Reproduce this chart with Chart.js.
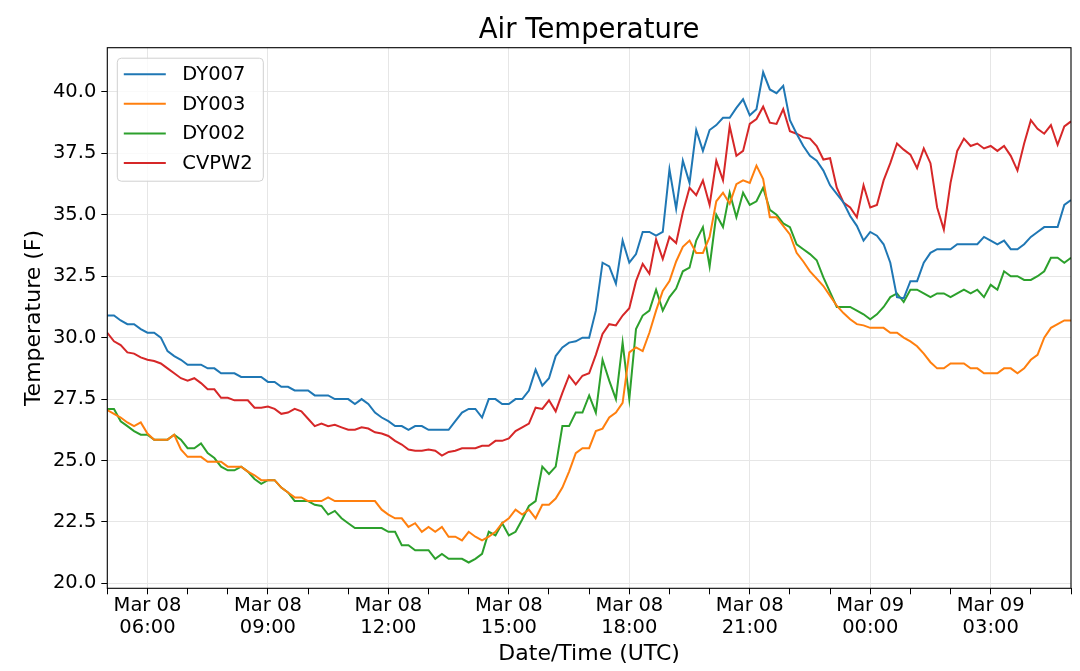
<!DOCTYPE html>
<html>
<head>
<meta charset="utf-8" />
<title>Air Temperature</title>
<script src="https://cdn.jsdelivr.net/npm/chart.js@4.4.1/dist/chart.umd.min.js"></script>
<style>
    body { margin: 0; background: #fff; }
    canvas { display: block; }
</style>
</head>
<body>
<canvas id="chart" width="1080" height="671"></canvas>

<script>
// readings every 10 minutes, first one at Mar 08 05:00 UTC
var startHour = 5;
var stepMinutes = 10;

var dy007 = [
    30.9, 30.9, 30.7, 30.55, 30.55, 30.35, 30.2, 30.2, 30.0, 29.45,
    29.25, 29.1, 28.9, 28.9, 28.9, 28.75, 28.75, 28.55, 28.55, 28.55,
    28.4, 28.4, 28.4, 28.4, 28.2, 28.2, 28.0, 28.0, 27.85, 27.85,
    27.85, 27.65, 27.65, 27.65, 27.5, 27.5, 27.5, 27.3, 27.5, 27.3,
    26.95, 26.75, 26.6, 26.4, 26.4, 26.25, 26.4, 26.4, 26.25, 26.25,
    26.25, 26.25, 26.6, 26.95, 27.1, 27.1, 26.75, 27.5, 27.5, 27.3,
    27.3, 27.5, 27.5, 27.85, 28.7, 28.05, 28.35, 29.25, 29.6, 29.8,
    29.85, 30.0, 30.0, 31.1, 33.05, 32.9, 32.2, 33.95, 33.05, 33.4,
    34.3, 34.3, 34.15, 34.3, 36.85, 35.25, 37.2, 36.3, 38.45, 37.6,
    38.45, 38.65, 38.95, 38.95, 39.35, 39.7, 39.05, 39.3, 40.8, 40.1,
    39.95, 40.25, 38.85, 38.3, 37.8, 37.4, 37.2, 36.8, 36.2, 35.85,
    35.5, 34.95, 34.55, 33.95, 34.3, 34.15, 33.8, 33.05, 31.65, 31.6,
    32.3, 32.3, 33.05, 33.45, 33.6, 33.6, 33.6, 33.8, 33.8, 33.8,
    33.8, 34.1, 33.95, 33.8, 33.95, 33.6, 33.6, 33.8, 34.1, 34.3,
    34.5, 34.5, 34.5, 35.4, 35.6
];

var dy003 = [
    27.05, 26.9, 26.75, 26.55, 26.4, 26.55, 26.1, 25.85, 25.85, 25.85,
    26.05, 25.45, 25.15, 25.15, 25.15, 24.95, 24.95, 24.95, 24.75, 24.75,
    24.75, 24.55, 24.4, 24.2, 24.2, 24.2, 23.9, 23.7, 23.5, 23.5,
    23.35, 23.35, 23.35, 23.5, 23.35, 23.35, 23.35, 23.35, 23.35, 23.35,
    23.35, 23.0, 22.8, 22.65, 22.65, 22.3, 22.45, 22.1, 22.3, 22.1,
    22.3, 21.9, 21.9, 21.75, 22.1, 21.9, 21.75, 21.9, 22.1, 22.45,
    22.65, 23.0, 22.8, 23.0, 22.65, 23.2, 23.2, 23.45, 23.9, 24.55,
    25.3, 25.5, 25.5, 26.2, 26.3, 26.75, 26.95, 27.35, 29.4, 29.6,
    29.45, 30.2, 31.1, 31.9, 32.3, 33.1, 33.7, 33.95, 33.45, 33.45,
    34.1, 35.55, 35.9, 35.45, 36.25, 36.4, 36.3, 37.0, 36.45, 34.9,
    34.9, 34.55, 34.2, 33.45, 33.1, 32.7, 32.4, 32.1, 31.7, 31.3,
    31.0, 30.75, 30.55, 30.5, 30.4, 30.4, 30.4, 30.2, 30.2, 30.0,
    29.85, 29.65, 29.35, 29.0, 28.75, 28.75, 28.95, 28.95, 28.95, 28.75,
    28.75, 28.55, 28.55, 28.55, 28.75, 28.75, 28.55, 28.75, 29.1, 29.3,
    30.0, 30.4, 30.55, 30.7, 30.7
];

var dy002 = [
    27.1, 27.1, 26.6, 26.4, 26.2, 26.05, 26.05, 25.85, 25.85, 25.85,
    26.05, 25.85, 25.5, 25.5, 25.7, 25.3, 25.1, 24.75, 24.6, 24.6,
    24.75, 24.55, 24.25, 24.05, 24.2, 24.2, 23.9, 23.7, 23.35, 23.35,
    23.35, 23.2, 23.15, 22.8, 22.95, 22.65, 22.45, 22.25, 22.25, 22.25,
    22.25, 22.25, 22.1, 22.1, 21.55, 21.55, 21.35, 21.35, 21.35, 21.0,
    21.2, 21.0, 21.0, 21.0, 20.85, 21.0, 21.2, 22.1, 21.95, 22.45,
    21.95, 22.1, 22.6, 23.15, 23.35, 24.75, 24.45, 24.75, 26.4, 26.4,
    26.95, 26.95, 27.65, 26.95, 29.1, 28.25, 27.5, 29.8, 27.5, 30.35,
    30.9, 31.1, 31.95, 31.1, 31.65, 32.0, 32.7, 32.85, 33.95, 34.5,
    32.9, 35.0, 34.5, 35.9, 34.9, 35.9, 35.4, 35.55, 36.1, 35.2,
    35.0, 34.65, 34.5, 33.8, 33.6, 33.4, 33.15, 32.45, 31.85, 31.25,
    31.25, 31.25, 31.1, 30.95, 30.75, 30.95, 31.25, 31.65, 31.8, 31.45,
    31.95, 31.95, 31.8, 31.65, 31.8, 31.8, 31.65, 31.8, 31.95, 31.8,
    31.95, 31.65, 32.15, 31.95, 32.7, 32.5, 32.5, 32.35, 32.35, 32.5,
    32.7, 33.25, 33.25, 33.05, 33.25
];

var cvpw2 = [
    30.2, 29.85, 29.7, 29.4, 29.35, 29.2, 29.1, 29.05, 28.95, 28.75,
    28.55, 28.35, 28.25, 28.35, 28.15, 27.9, 27.9, 27.55, 27.55, 27.45,
    27.45, 27.45, 27.15, 27.15, 27.2, 27.1, 26.9, 26.95, 27.1, 27.0,
    26.7, 26.4, 26.5, 26.4, 26.45, 26.35, 26.25, 26.25, 26.35, 26.3,
    26.15, 26.1, 26.0, 25.8, 25.65, 25.45, 25.4, 25.4, 25.45, 25.4,
    25.2, 25.35, 25.4, 25.5, 25.5, 25.5, 25.6, 25.6, 25.8, 25.8,
    25.9, 26.2, 26.35, 26.5, 27.15, 27.1, 27.45, 27.0, 27.75, 28.45,
    28.1, 28.45, 28.55, 29.3, 30.15, 30.55, 30.5, 30.9, 31.2, 32.3,
    33.0, 32.6, 34.0, 33.2, 34.1, 33.85, 35.1, 36.1, 35.8, 36.4,
    35.4, 37.2, 36.4, 38.6, 37.4, 37.6, 38.7, 38.9, 39.4, 38.75,
    38.7, 39.3, 38.4, 38.3, 38.15, 38.1, 37.8, 37.25, 37.3, 36.1,
    35.5, 35.3, 34.9, 36.2, 35.3, 35.4, 36.4, 37.1, 37.9, 37.65,
    37.45, 36.9, 37.7, 37.1, 35.3, 34.4, 36.3, 37.6, 38.1, 37.8,
    37.9, 37.7, 37.8, 37.6, 37.8, 37.4, 36.8, 37.9, 38.85, 38.5,
    38.3, 38.65, 37.85, 38.6, 38.8
];

var seriesNames = ['DY007', 'DY003', 'DY002', 'CVPW2'];
var seriesColors = ['#1f77b4', '#ff7f0e', '#2ca02c', '#d62728'];

var yTicks = [20.0, 22.5, 25.0, 27.5, 30.0, 32.5, 35.0, 37.5, 40.0];
// major ticks every 3 hours (hours counted from Mar 08 00:00)
var xTickHours = [6, 9, 12, 15, 18, 21, 24, 27];
var xTickLabels = [
    ['Mar 08', '06:00'], ['Mar 08', '09:00'], ['Mar 08', '12:00'], ['Mar 08', '15:00'],
    ['Mar 08', '18:00'], ['Mar 08', '21:00'], ['Mar 09', '00:00'], ['Mar 09', '03:00']
];
var chartTitle = 'Air Temperature';

function toPoints(vals) {
    return vals.map(function(v, i) {
        return { x: startHour + i * stepMinutes / 60, y: v };
    });
}

var allSeries = [dy007, dy003, dy002, cvpw2];
var datasets = allSeries.map(function(vals, k) {
    return {
        label: seriesNames[k],
        data: toPoints(vals),
        borderColor: seriesColors[k],
        backgroundColor: seriesColors[k],
        borderWidth: 2,
        pointRadius: 0,
        tension: 0
    };
});

var xEnd = startHour + (dy007.length - 1) * stepMinutes / 60;

// frame round the plot, title centred over the plot, legend box upper left
var frameLegend = {
    id: 'frameLegend',
    afterDatasetsDraw: function(chart) {
        var ctx = chart.ctx;
        var a = chart.chartArea;
        ctx.save();
        ctx.strokeStyle = '#000';
        ctx.lineWidth = 1.1;
        ctx.strokeRect(a.left, a.top, a.right - a.left, a.bottom - a.top);

        ctx.fillStyle = '#000';
        ctx.font = '27.5px "DejaVu Sans"';
        ctx.textAlign = 'center';
        ctx.textBaseline = 'middle';
        ctx.fillText(chartTitle, (a.left + a.right) / 2, 31);

        var bx = a.left + 10, by = a.top + 10.5, bw = 146, bh = 123, r = 4;
        ctx.beginPath();
        ctx.moveTo(bx + r, by);
        ctx.arcTo(bx + bw, by, bx + bw, by + bh, r);
        ctx.arcTo(bx + bw, by + bh, bx, by + bh, r);
        ctx.arcTo(bx, by + bh, bx, by, r);
        ctx.arcTo(bx, by, bx + bw, by, r);
        ctx.closePath();
        ctx.fillStyle = 'rgba(255,255,255,0.8)';
        ctx.fill();
        ctx.strokeStyle = '#d0d0d0';
        ctx.lineWidth = 1;
        ctx.stroke();

        ctx.font = '19.5px "DejaVu Sans"';
        ctx.textBaseline = 'middle';
        ctx.textAlign = 'left';
        chart.data.datasets.forEach(function(ds, k) {
            var yy = by + 16 + k * 29.6;
            ctx.strokeStyle = ds.borderColor;
            ctx.lineWidth = 2;
            ctx.beginPath();
            ctx.moveTo(bx + 6.5, yy);
            ctx.lineTo(bx + 48.5, yy);
            ctx.stroke();
            ctx.fillStyle = '#000';
            ctx.fillText(ds.label, bx + 65, yy + 1);
        });
        ctx.restore();
    }
};

Chart.defaults.font.family = '"DejaVu Sans", sans-serif';
Chart.defaults.color = '#000';

var chart = new Chart(document.getElementById('chart').getContext('2d'), {
    type: 'line',
    data: { datasets: datasets },
    plugins: [frameLegend],
    options: {
        responsive: false,
        animation: false,
        devicePixelRatio: 1,
        layout: { padding: { top: 47.7, right: 9, bottom: 0, left: 0 } },
        plugins: {
            legend: { display: false },
            tooltip: { enabled: false },
            title: { display: false }
        },
        scales: {
            x: {
                type: 'linear',
                min: startHour,
                max: xEnd,
                afterBuildTicks: function(scale) {
                    var t = [];
                    for (var h = startHour; h <= xEnd; h++) t.push({ value: h });
                    scale.ticks = t;
                },
                afterFit: function(scale) { scale.height = 82.7; },
                ticks: {
                    autoSkip: false,
                    maxRotation: 0,
                    padding: 0,
                    font: { size: 19.5, lineHeight: 1.15 },
                    callback: function(value) {
                        var idx = xTickHours.indexOf(value);
                        return idx >= 0 ? xTickLabels[idx] : '';
                    }
                },
                grid: {
                    color: function(c) {
                        return c.tick && xTickHours.indexOf(c.tick.value) >= 0 ? '#e6e6e6' : 'rgba(0,0,0,0)';
                    },
                    tickColor: '#000',
                    tickLength: 6
                },
                border: { display: false },
                title: {
                    display: true,
                    text: 'Date/Time (UTC)',
                    color: '#000',
                    font: { size: 22 },
                    padding: { top: 0, bottom: 4 }
                }
            },
            y: {
                type: 'linear',
                min: 19.8,
                max: 41.8,
                afterBuildTicks: function(scale) {
                    scale.ticks = yTicks.map(function(v) { return { value: v }; });
                },
                afterFit: function(scale) { scale.width = 107.3; },
                ticks: {
                    padding: 5,
                    font: { size: 19.5 },
                    callback: function(value) { return value.toFixed(1); }
                },
                grid: {
                    color: '#e6e6e6',
                    tickColor: '#000',
                    tickLength: 6
                },
                border: { display: false },
                title: {
                    display: true,
                    text: 'Temperature (F)',
                    color: '#000',
                    font: { size: 22 },
                    padding: { top: 21, bottom: 0 }
                }
            }
        }
    }
});
</script>
</body>
</html>
